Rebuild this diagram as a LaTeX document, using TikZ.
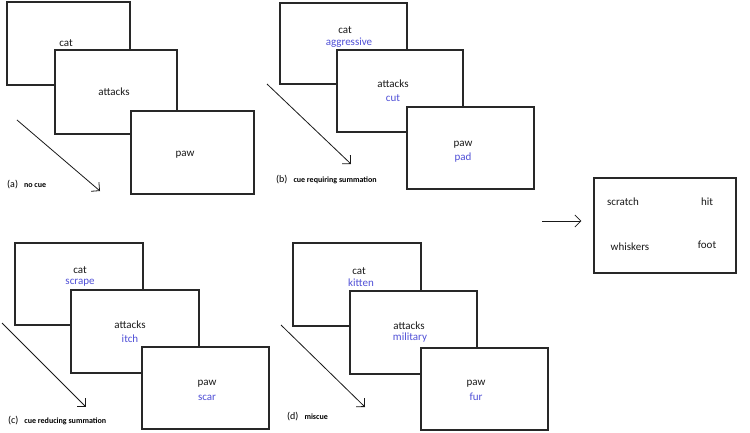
\documentclass[tikz,border=0pt]{standalone}
\usepackage{fontspec}
\setmainfont{Carlito}
\usetikzlibrary{arrows.meta}
\definecolor{cueblue}{RGB}{80,80,215}
\definecolor{boxline}{RGB}{40,40,40}
\tikzset{
  card/.style={draw=boxline, line width=1.1pt, fill=white, inner sep=0pt},
  word/.style={inner sep=0pt, font=\fontsize{11}{13}\selectfont, text=black!90},
  cue/.style={word, text=cueblue},
  flow/.style={draw=black!90, line width=0.8pt, -{Straight Barb[length=6pt,width=12pt,line width=0.8pt]}},
  caption/.style={inner sep=0pt, anchor=west, font=\fontsize{10}{11}\selectfont},
}
\newcommand{\capt}[2]{#1\hspace{6pt}{\fontsize{8}{9}\selectfont\bfseries #2}}
\begin{document}
\begin{tikzpicture}[x=1pt,y=-1pt]
\useasboundingbox (0,0) rectangle (750,433);
% ---------- (a)
\node[card, minimum width=123pt, minimum height=83pt] (a1) at (68.5,43.5) {};
\node[card, minimum width=122pt, minimum height=84pt] (a2) at (116,92) {};
\node[card, minimum width=123pt, minimum height=83pt] (a3) at (192.5,152.5) {};
\node[word] (a1w) at (66,43) {cat};
\node[word] (a2w) at (114,92) {attacks};
\node[word] (a3w) at (185,155) {paw};
\coordinate (as) at (17,120); \coordinate (ae) at (100,191);
\draw[flow] (as) -- (ae);
\node[caption] (acap) at (7,185) {\capt{(a)}{no cue}};
% ---------- (b)
\node[card, minimum width=127pt, minimum height=81pt] (b1) at (343.5,43.5) {};
\node[card, minimum width=126pt, minimum height=82pt] (b2) at (400,91) {};
\node[card, minimum width=127pt, minimum height=82pt] (b3) at (470.5,148) {};
\node[word] (b1w) at (345,30) {cat};
\node[cue]  (b1c) at (349,43) {aggressive};
\node[word] (b2w) at (393,84) {attacks};
\node[cue]  (b2c) at (393,98) {cut};
\node[word] (b3w) at (463,145) {paw};
\node[cue]  (b3c) at (463,158) {pad};
\coordinate (bs) at (267,84); \coordinate (be) at (351,164);
\draw[flow] (bs) -- (be);
\node[caption] (bcap) at (276,180) {\capt{(b)}{cue requiring summation}};
% ---------- (c)
\node[card, minimum width=128pt, minimum height=82pt] (c1) at (79,284) {};
\node[card, minimum width=128pt, minimum height=83pt] (c2) at (135,331.5) {};
\node[card, minimum width=127pt, minimum height=82pt] (c3) at (205.5,388) {};
\node[word] (c1w) at (80,270) {cat};
\node[cue]  (c1c) at (80,283) {scrape};
\node[word] (c2w) at (130,325) {attacks};
\node[cue]  (c2c) at (130,339) {itch};
\node[word] (c3w) at (207,384) {paw};
\node[cue]  (c3c) at (207,398) {scar};
\coordinate (cs) at (2,323); \coordinate (ce) at (86,407);
\draw[flow] (cs) -- (ce);
\node[caption] (ccap) at (8,421) {\capt{(c)}{cue reducing summation}};
% ---------- (d)
\node[card, minimum width=128pt, minimum height=83pt] (d1) at (357,284.5) {};
\node[card, minimum width=127pt, minimum height=83pt] (d2) at (413.5,332.5) {};
\node[card, minimum width=127pt, minimum height=82pt] (d3) at (484.5,389) {};
\node[word] (d1w) at (359,271) {cat};
\node[cue]  (d1c) at (361,283) {kitten};
\node[word] (d2w) at (409,326) {attacks};
\node[cue]  (d2c) at (410,338) {military};
\node[word] (d3w) at (476,384) {paw};
\node[cue]  (d3c) at (476,397) {fur};
\coordinate (ds) at (281,325); \coordinate (de) at (365,407);
\draw[flow] (ds) -- (de);
\node[caption] (dcap) at (287,417) {\capt{(d)}{miscue}};
% ---------- result
\node[card, minimum width=142pt, minimum height=95pt] (r) at (665,225.5) {};
\node[word] (r1) at (623,202) {scratch};
\node[word] (r2) at (707,202) {hit};
\node[word] (r3) at (630,247) {whiskers};
\node[word] (r4) at (707,245) {foot};
\coordinate (rs) at (542,221);
\draw[flow] (rs) -- ([xshift=-12pt]r.west |- rs);
\end{tikzpicture}
\end{document}
